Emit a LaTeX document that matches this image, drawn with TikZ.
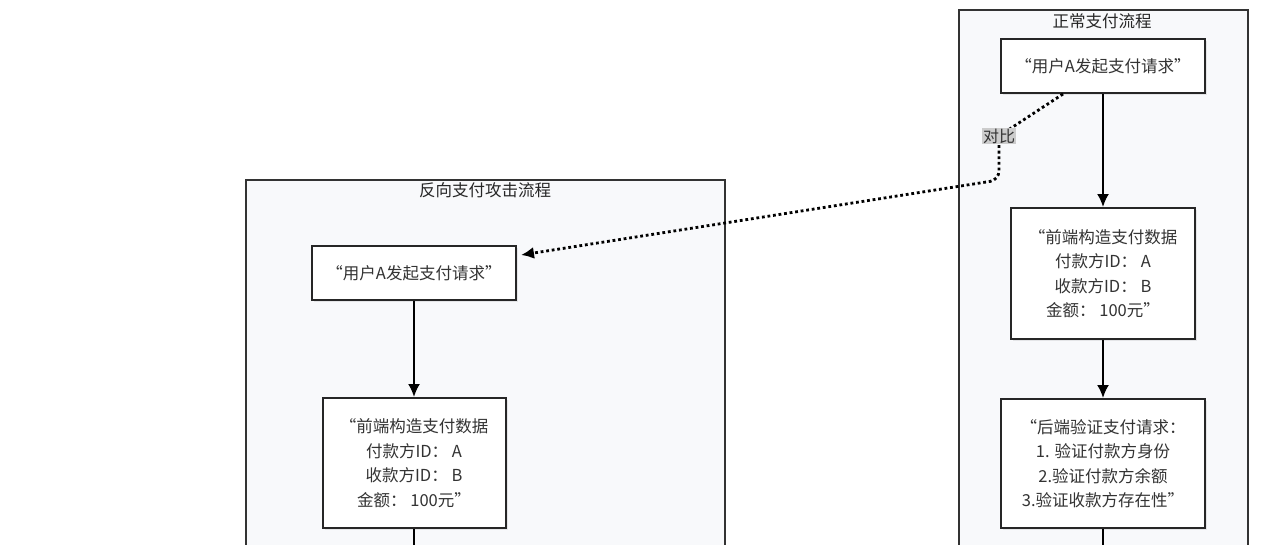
\documentclass[tikz,border=0pt]{standalone}
\usepackage{fontspec}
\setmainfont{Noto Sans CJK SC}
\usetikzlibrary{arrows.meta,calc,shadows}
\definecolor{clusterbg}{HTML}{F8F9FB}
\definecolor{txt}{HTML}{333333}
\definecolor{lblbg}{HTML}{CCCCCC}
\begin{document}
\begin{tikzpicture}[x=1pt,y=-1pt,
  cluster/.style={draw=black!80, line width=1.6pt, fill=clusterbg, anchor=north west, inner sep=0pt},
  ctitle/.style={text=black!85, font=\fontsize{16.5pt}{18pt}\selectfont},
  stepbox/.style={draw=black!85, line width=2pt, fill=white, align=center, inner sep=0pt, text=txt,
    font=\fontsize{16.5pt}{24.5pt}\selectfont,
    drop shadow={shadow xshift=2pt, shadow yshift=-2pt, fill=black, opacity=0.08}},
  flow/.style={line width=2pt, draw=black, -{Latex[length=13pt,width=12pt]}},
  cmp/.style={line width=2.8pt, draw=black, dash pattern=on 2.8pt off 2.8pt, rounded corners=9pt, -{Latex[length=13pt,width=12pt]}},
  lbl/.style={fill=lblbg, text=txt, inner sep=1pt, font=\fontsize{16pt}{18pt}\selectfont},
]
\useasboundingbox (0,0) rectangle (1280,544);
\clip (0,0) rectangle (1280,544);
\fill[white] (0,0) rectangle (1280,544);

% clusters
\node[cluster, minimum width=289pt, minimum height=600pt] (cR) at (958,9) {};
\node[ctitle] (tR) at (1102,21) {正常支付流程};
\node[cluster, minimum width=479pt, minimum height=430pt] (cL) at (245,179) {};
\node[ctitle] (tL) at (485,190) {反向支付攻击流程};

% right flow
\node[stepbox, minimum width=204pt, minimum height=54pt] (R1) at (1103,66) {“用户A发起支付请求”};
\node[stepbox, minimum width=184pt, minimum height=131pt] (R2) at (1103,273.5) {“前端构造支付数据\\付款方ID： A\\收款方ID： B\\金额： 100元”};
\node[stepbox, minimum width=204pt, minimum height=129pt] (R3) at (1103,463.5) {“后端验证支付请求：\\1. 验证付款方身份\\2.验证付款方余额\\3.验证收款方存在性”};
\coordinate (R4) at (1103,620);

% left flow
\node[stepbox, minimum width=204pt, minimum height=54pt] (L1) at (414,273) {“用户A发起支付请求”};
\node[stepbox, minimum width=183pt, minimum height=130pt] (L2) at (414,463) {“前端构造支付数据\\付款方ID： A\\收款方ID： B\\金额： 100元”};
\coordinate (L3) at (414,620);

\draw[flow] (R1) -- (R2);
\draw[flow] (R2) -- (R3);
\draw[line width=2pt] (R3) -- (R4);
\draw[flow] (L1) -- (L2);
\draw[line width=2pt] (L2) -- (L3);

% comparison connector
\coordinate (cs) at ($(R1.south)+(-40,0)$);
\coordinate (cl) at (999,136);
\coordinate (cb) at (999,180);
\coordinate (ce) at ($(L1.north east)+(4,10)$);
\draw[cmp] (cs) -- (cl) -- (cb) -- (ce);
\node[lbl] (lb) at (cl) {对比};
\end{tikzpicture}
\end{document}
